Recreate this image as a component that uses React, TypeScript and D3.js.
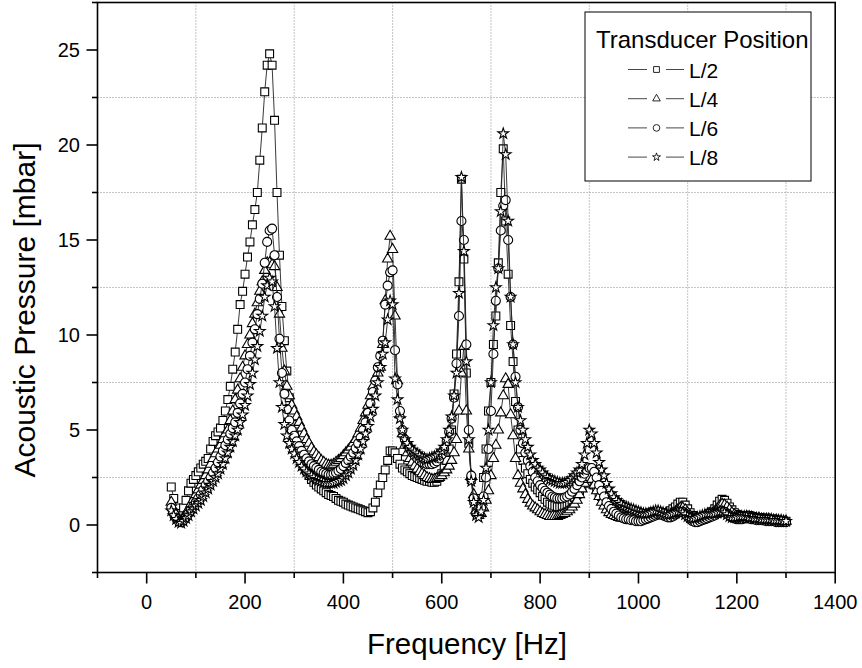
import * as d3 from "d3";

// sampled frequencies, 50 .. 1300 Hz every 5 Hz
const freqs = d3.range(50, 1301, 5);

// L/2 (squares)
const l2 = [
  2.0, 1.4, 0.9, 0.6, 0.6, 0.9, 1.3, 1.8, 2.2, 2.4,
  2.6, 2.8, 3.0, 3.2, 3.35, 3.5, 4.0, 4.4, 4.7, 4.9,
  5.1, 5.5, 6.0, 6.6, 7.3, 8.2, 9.1, 10.3, 11.6, 12.3,
  13.2, 14.1, 14.9, 15.8, 16.6, 17.5, 19.2, 20.9, 22.8, 24.2,
  24.8, 24.2, 21.3, 17.5, 14.2, 11.5, 9.7, 8.1, 6.7, 5.7,
  4.9, 4.3, 3.8, 3.4, 3.1, 2.85, 2.6, 2.4, 2.25, 2.1,
  2.0, 1.9, 1.8, 1.7, 1.6, 1.55, 1.5, 1.4, 1.3, 1.25,
  1.2, 1.1, 1.05, 1.0, 0.95, 0.9, 0.85, 0.8, 0.75, 0.7,
  0.65, 0.7, 0.9, 1.2, 1.7, 2.1, 2.5, 2.9, 3.4, 3.9,
  3.9, 3.8, 3.5, 3.2, 3.0, 2.9, 2.8, 2.7, 2.6, 2.55,
  2.5, 2.45, 2.4, 2.35, 2.3, 2.3, 2.25, 2.25, 2.3, 2.5,
  2.7, 3.0, 3.4, 4.0, 5.0, 6.9, 9.0, 12.8, 18.2, 14.0,
  8.0, 4.3, 2.4, 1.3, 0.7, 0.8, 1.4, 2.5, 4.0, 6.0,
  7.5, 9.5, 11.0, 13.8, 17.5, 19.8, 16.0, 13.2, 10.5, 8.6,
  6.5, 5.0, 4.0, 3.4, 3.0, 2.7, 2.4, 2.2, 2.0, 1.85,
  1.7, 1.5, 1.35, 1.2, 1.1, 1.05, 1.0, 0.95, 0.95, 0.95,
  1.0, 1.05, 1.15, 1.3, 1.45, 1.6, 1.8, 2.0, 2.2, 2.4,
  2.4, 2.3, 2.1, 1.9, 1.7, 1.5, 1.3, 1.1, 1.0, 0.9,
  0.8, 0.75, 0.7, 0.65, 0.7, 0.75, 0.8, 0.75, 0.7, 0.6,
  0.5, 0.45, 0.5, 0.55, 0.6, 0.65, 0.7, 0.7, 0.7, 0.65,
  0.6, 0.6, 0.65, 0.75, 0.85, 0.95, 1.1, 1.2, 1.2, 1.05,
  0.85, 0.65, 0.5, 0.4, 0.35, 0.35, 0.4, 0.45, 0.5, 0.6,
  0.7, 0.85, 1.05, 1.25, 1.35, 1.3, 1.15, 0.95, 0.8, 0.65,
  0.55, 0.5, 0.45, 0.45, 0.5, 0.5, 0.45, 0.4, 0.4, 0.4,
  0.35, 0.35, 0.35, 0.3, 0.3, 0.3, 0.25, 0.25, 0.2, 0.2,
  0.2,
];

// L/4 (triangles)
const l4 = [
  1.2, 0.8, 0.5, 0.3, 0.25, 0.4, 0.6, 0.85, 1.1, 1.35,
  1.6, 1.85, 2.1, 2.35, 2.6, 2.9, 3.2, 3.5, 3.75, 4.0,
  4.2, 4.5, 4.8, 5.0, 5.5, 6.0, 6.6, 7.1, 7.7, 8.3,
  8.9, 9.5, 10.0, 10.6, 11.1, 11.7, 12.3, 12.8, 13.4, 13.8,
  13.8, 13.7, 13.6, 12.5, 11.1, 9.3, 8.1, 7.3, 6.8, 6.3,
  6.0, 5.7, 5.4, 5.1, 4.8, 4.5, 4.3, 4.05, 3.85, 3.7,
  3.55, 3.4, 3.3, 3.2, 3.15, 3.15, 3.2, 3.3, 3.4, 3.5,
  3.65, 3.8, 3.95, 4.1, 4.3, 4.5, 4.8, 5.1, 5.5, 5.9,
  6.3, 6.8, 7.3, 7.7, 8.0, 8.3, 9.5, 11.8, 14.0, 15.2,
  14.5, 11.0, 7.6, 5.8, 4.8, 4.2, 3.8, 3.5, 3.3, 3.1,
  2.95, 2.8, 2.7, 2.6, 2.5, 2.45, 2.4, 2.4, 2.45, 2.5,
  2.6, 2.75, 2.9, 3.1, 3.4, 3.8, 4.5, 6.0, 8.0, 9.4,
  6.0, 4.0, 2.6, 1.6, 0.8, 0.5, 0.6, 0.9, 1.3, 1.8,
  2.6, 3.5, 4.2, 5.0, 5.9, 6.8, 7.7, 7.4, 5.8, 4.7,
  3.5, 2.6, 2.2, 1.9, 1.6, 1.35, 1.15, 1.0, 0.9, 0.8,
  0.7, 0.6, 0.55, 0.5, 0.45, 0.45, 0.45, 0.45, 0.5, 0.55,
  0.6, 0.7, 0.8, 0.95, 1.1, 1.3, 1.6, 1.9, 2.2, 2.4,
  2.5, 2.4, 2.1, 1.8, 1.5, 1.2, 1.0, 0.8, 0.65, 0.55,
  0.5, 0.45, 0.4, 0.35, 0.35, 0.4, 0.45, 0.5, 0.55, 0.6,
  0.6, 0.6, 0.55, 0.5, 0.45, 0.45, 0.5, 0.55, 0.6, 0.6,
  0.55, 0.5, 0.45, 0.5, 0.6, 0.7, 0.8, 0.9, 0.9, 0.8,
  0.65, 0.5, 0.4, 0.35, 0.3, 0.3, 0.35, 0.4, 0.45, 0.5,
  0.6, 0.7, 0.85, 1.0, 1.1, 1.05, 0.95, 0.8, 0.65, 0.55,
  0.45, 0.4, 0.4, 0.4, 0.45, 0.45, 0.4, 0.35, 0.35, 0.35,
  0.3, 0.3, 0.3, 0.3, 0.25, 0.25, 0.25, 0.2, 0.2, 0.2,
  0.2,
];

// L/6 (circles)
const l6 = [
  0.9, 0.6, 0.35, 0.2, 0.15, 0.25, 0.4, 0.6, 0.8, 1.0,
  1.2, 1.4, 1.6, 1.85, 2.1, 2.3, 2.5, 2.75, 3.0, 3.3,
  3.6, 3.9, 4.2, 4.5, 4.8, 5.1, 5.4, 5.9, 6.4, 6.9,
  7.5, 8.2, 8.9, 9.6, 10.3, 11.1, 11.9, 12.7, 13.8, 14.9,
  15.5, 15.6, 14.2, 12.0, 9.8, 8.0, 6.9, 6.1, 5.5, 5.0,
  4.7, 4.4, 4.15, 3.9, 3.7, 3.5, 3.35, 3.2, 3.1, 3.0,
  2.9, 2.8, 2.75, 2.7, 2.65, 2.65, 2.7, 2.75, 2.85, 2.95,
  3.1, 3.25, 3.4, 3.6, 3.8, 4.05, 4.3, 4.6, 5.0, 5.4,
  5.9, 6.4, 7.0, 7.6, 8.3, 8.9, 9.7, 11.6, 12.6, 13.3,
  13.4, 9.2, 7.4, 6.0, 5.0, 4.5, 4.2, 4.0, 3.8, 3.65,
  3.5, 3.4, 3.3, 3.25, 3.2, 3.2, 3.2, 3.25, 3.35, 3.5,
  3.7, 4.0, 4.4, 4.9, 5.6, 6.7, 8.5, 11.0, 16.0, 15.0,
  9.5, 5.0, 2.6, 1.4, 0.6, 0.6, 0.9, 1.5, 2.5, 4.0,
  6.0, 9.0, 11.8, 13.5, 15.5, 16.8, 17.1, 15.0, 12.0, 9.5,
  7.8, 6.2, 5.0, 4.3, 3.8, 3.4, 3.1, 2.8, 2.5, 2.3,
  2.1, 1.95, 1.8, 1.7, 1.6, 1.5, 1.45, 1.4, 1.4, 1.4,
  1.45, 1.5, 1.6, 1.75, 1.9, 2.1, 2.3, 2.5, 2.7, 2.9,
  3.0, 3.0, 2.8, 2.5, 2.1, 1.8, 1.5, 1.2, 1.0, 0.85,
  0.7, 0.6, 0.5, 0.4, 0.35, 0.3, 0.3, 0.25, 0.25, 0.2,
  0.2, 0.2, 0.25, 0.3, 0.35, 0.4, 0.45, 0.5, 0.55, 0.55,
  0.5, 0.45, 0.4, 0.4, 0.45, 0.55, 0.65, 0.7, 0.7, 0.6,
  0.45, 0.3, 0.2, 0.15, 0.15, 0.2, 0.25, 0.3, 0.35, 0.4,
  0.45, 0.5, 0.6, 0.7, 0.75, 0.7, 0.6, 0.5, 0.4, 0.35,
  0.3, 0.3, 0.3, 0.35, 0.35, 0.35, 0.3, 0.3, 0.25, 0.25,
  0.25, 0.25, 0.2, 0.2, 0.2, 0.2, 0.15, 0.15, 0.15, 0.15,
  0.15,
];

// L/8 (stars)
const l8 = [
  0.75, 0.5, 0.3, 0.15, 0.1, 0.2, 0.35, 0.5, 0.7, 0.85,
  1.0, 1.15, 1.3, 1.5, 1.7, 1.9, 2.1, 2.3, 2.5, 2.7,
  2.95, 3.2, 3.5, 3.8, 4.1, 4.4, 4.7, 5.0, 5.4, 5.8,
  6.3, 6.8, 7.4, 8.0, 8.7, 9.4, 10.2, 11.0, 12.0, 12.6,
  13.0, 12.8, 11.5, 9.3, 7.5, 6.2, 5.3, 4.7, 4.3, 4.0,
  3.75, 3.5, 3.3, 3.1, 2.95, 2.8, 2.7, 2.6, 2.5, 2.4,
  2.35, 2.3, 2.25, 2.2, 2.2, 2.2, 2.2, 2.25, 2.3, 2.35,
  2.45, 2.6, 2.75, 2.95, 3.15, 3.4, 3.7, 4.0, 4.4, 4.8,
  5.2, 5.7, 6.1, 6.8, 7.5, 8.3, 9.0, 9.6, 10.8, 11.8,
  11.6, 7.7, 6.6, 5.6, 5.0, 4.5, 4.3, 4.1, 3.95, 3.85,
  3.75, 3.65, 3.55, 3.5, 3.45, 3.5, 3.55, 3.6, 3.65, 3.75,
  3.9, 4.1, 4.5, 5.0, 5.7, 6.8, 8.0, 12.2, 18.3, 14.4,
  8.6, 4.5, 2.3, 1.2, 0.5, 0.4, 0.7, 1.3, 3.0, 5.0,
  7.5, 10.5, 12.5, 13.5, 16.5, 20.6, 19.5, 16.0, 12.0, 9.5,
  7.5, 6.2, 5.5, 5.0, 4.5, 4.1, 3.7, 3.4, 3.2, 3.0,
  2.9, 2.75, 2.6, 2.5, 2.4, 2.35, 2.3, 2.25, 2.2, 2.2,
  2.2, 2.25, 2.35, 2.45, 2.6, 2.75, 2.9, 3.2, 3.7, 4.3,
  5.0, 4.8, 4.3, 3.8, 3.3, 2.9, 2.6, 2.2, 1.9, 1.65,
  1.45, 1.3, 1.2, 1.1, 1.0, 0.95, 0.9, 0.85, 0.8, 0.75,
  0.7, 0.65, 0.6, 0.6, 0.6, 0.65, 0.7, 0.75, 0.75, 0.7,
  0.65, 0.6, 0.55, 0.55, 0.6, 0.65, 0.7, 0.7, 0.65, 0.55,
  0.45, 0.4, 0.35, 0.35, 0.4, 0.45, 0.5, 0.55, 0.6, 0.6,
  0.6, 0.6, 0.65, 0.7, 0.7, 0.65, 0.55, 0.45, 0.4, 0.4,
  0.4, 0.45, 0.45, 0.45, 0.45, 0.4, 0.4, 0.35, 0.35, 0.35,
  0.3, 0.3, 0.3, 0.3, 0.3, 0.25, 0.25, 0.25, 0.25, 0.2,
  0.2,
];

const seriesNames = ["L/2", "L/4", "L/6", "L/8"];

// tick values
const xMajor = [0, 200, 400, 600, 800, 1000, 1200, 1400];
const xMinor = [-100, 100, 300, 500, 700, 900, 1100, 1300];
const yMajor = [0, 5, 10, 15, 20, 25];
const yMinor = [-2.5, 2.5, 7.5, 12.5, 17.5, 22.5, 27.5];

const font = "'Liberation Sans', Arial, Helvetica, sans-serif";

export default function App() {
  const width = 862;
  const height = 668;
  const left = 97.5;
  const right = 835.2;
  const top = 2.5;
  const bottom = 572.5;

  const x = d3.scaleLinear().domain([-100, 1400]).range([left, right]);
  const y = d3.scaleLinear().domain([-2.5, 27.5]).range([bottom, top]);

  const series = [
    { name: seriesNames[0], values: l2, symbol: d3.symbolSquare, size: 62 },
    { name: seriesNames[1], values: l4, symbol: d3.symbolTriangle, size: 46 },
    { name: seriesNames[2], values: l6, symbol: d3.symbolCircle, size: 64 },
    { name: seriesNames[3], values: l8, symbol: d3.symbolStar, size: 36 },
  ];

  const line = d3
    .line<[number, number]>()
    .x(d => x(d[0]))
    .y(d => y(d[1]));

  return (
    <svg
      width={width}
      height={height}
      style={{ position: "absolute", left: 0, top: 0, background: "#fff" }}
      fontFamily={font}
    >
      {/* dotted grid at the minor ticks */}
      {xMinor.slice(1).map(t => (
        <line key={"gx" + t} x1={x(t)} x2={x(t)} y1={top} y2={bottom}
          stroke="#8a8a8a" strokeWidth={1} strokeDasharray="1,2" />
      ))}
      {yMinor.slice(1, -1).map(t => (
        <line key={"gy" + t} x1={left} x2={right} y1={y(t)} y2={y(t)}
          stroke="#8a8a8a" strokeWidth={1} strokeDasharray="1,2" />
      ))}

      {/* series: line, then markers */}
      {series.map(s => {
        const pts: [number, number][] = freqs
          .slice(0, s.values.length)
          .map((f, i) => [f, s.values[i]]);
        const path = d3.symbol().type(s.symbol).size(s.size)() || "";
        return (
          <g key={s.name}>
            <path d={line(pts) || ""} fill="none" stroke="#222" strokeWidth={0.9} />
            {pts.map((p, i) => (
              <path key={i} d={path}
                transform={`translate(${x(p[0])},${y(p[1])})`}
                fill="#fff" stroke="#000" strokeWidth={1.1} />
            ))}
          </g>
        );
      })}

      {/* frame */}
      <rect x={left} y={top} width={right - left} height={bottom - top}
        fill="none" stroke="#000" strokeWidth={1.6} />

      {/* x ticks */}
      {xMajor.map(t => (
        <g key={"xt" + t}>
          <line x1={x(t)} x2={x(t)} y1={bottom} y2={bottom + 11} stroke="#000" strokeWidth={1.6} />
          <text x={x(t)} y={609} textAnchor="middle" fontSize={20}>{t}</text>
        </g>
      ))}
      {xMinor.map(t => (
        <line key={"xm" + t} x1={x(t)} x2={x(t)} y1={bottom} y2={bottom + 5.5} stroke="#000" strokeWidth={1.6} />
      ))}

      {/* y ticks */}
      {yMajor.map(t => (
        <g key={"yt" + t}>
          <line x1={left - 11} x2={left} y1={y(t)} y2={y(t)} stroke="#000" strokeWidth={1.6} />
          <text x={80} y={y(t) + 7.3} textAnchor="end" fontSize={20}>{t}</text>
        </g>
      ))}
      {yMinor.map(t => (
        <line key={"ym" + t} x1={left - 5.5} x2={left} y1={y(t)} y2={y(t)} stroke="#000" strokeWidth={1.6} />
      ))}

      {/* axis titles */}
      <text x={467} y={654} textAnchor="middle" fontSize={29.5}>Frequency [Hz]</text>
      <text transform="translate(35,310) rotate(-90)" textAnchor="middle" fontSize={30}>
        Acoustic Pressure [mbar]
      </text>

      {/* legend */}
      <g>
        <rect x={585} y={12} width={226} height={169} fill="#fff" stroke="#000" strokeWidth={1} />
        <text x={596} y={48} fontSize={24}>Transducer Position</text>
        {series.map((s, i) => {
          const cy = 69.5 + i * 29.2;
          const path = d3.symbol().type(s.symbol).size(s.size * 0.55)() || "";
          return (
            <g key={"lg" + s.name}>
              <line x1={628} x2={647} y1={cy} y2={cy} stroke="#333" strokeWidth={0.9} />
              <line x1={666} x2={684} y1={cy} y2={cy} stroke="#333" strokeWidth={0.9} />
              <path d={path} transform={`translate(656.5,${cy})`} fill="#fff" stroke="#111" strokeWidth={0.9} />
              <text x={689} y={cy + 8} fontSize={21}>{s.name}</text>
            </g>
          );
        })}
      </g>
    </svg>
  );
}
